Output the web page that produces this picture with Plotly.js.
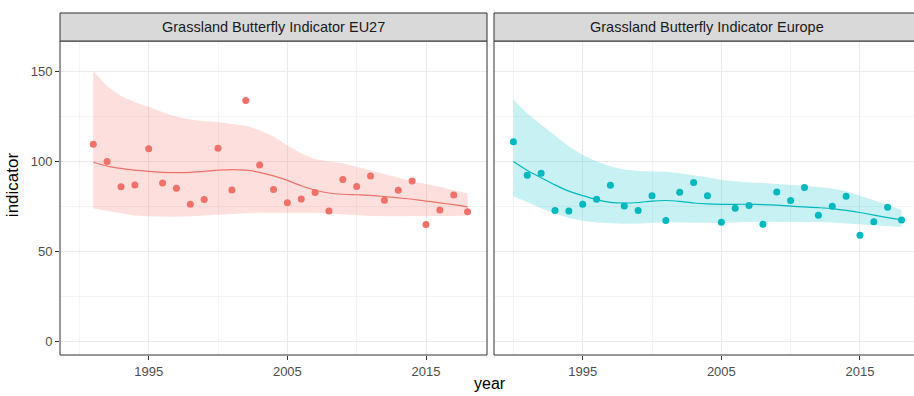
<!DOCTYPE html>
<html>
<head>
<meta charset="utf-8">
<script src="https://cdn.plot.ly/plotly-3.0.1.min.js"></script>
<style>
html,body{margin:0;padding:0;overflow:hidden;background:#fff;}
#chart{width:914px;height:396px;}
</style>
</head>
<body>
<div id="chart"></div>
<script>
// ---- Data ----
const panelTitles = ["Grassland Butterfly Indicator EU27", "Grassland Butterfly Indicator Europe"];

const yearsEU27 = [1991,1992,1993,1994,1995,1996,1997,1998,1999,2000,2001,2002,2003,2004,2005,2006,2007,2008,2009,2010,2011,2012,2013,2014,2015,2016,2017,2018];
const indexEU27 = [109.7,100.0,86.0,87.0,107.1,88.1,85.1,76.2,78.8,107.4,84.2,134.0,98.1,84.4,77.1,79.2,82.7,72.5,90.0,86.1,92.0,78.4,84.0,89.2,64.9,73.0,81.4,72.1];
const smoothEU27 = [99.6,97.5,96.2,95.2,94.5,94.0,93.8,94.0,94.5,95.2,95.5,95.2,94.0,92.0,89.5,86.5,84.0,82.5,81.8,81.5,81.2,80.5,79.8,79.0,78.0,77.0,76.0,74.8];
const upperEU27  = [150.5,142.0,136.5,133.0,130.5,127.5,125.0,123.5,122.5,122.0,121.0,120.0,117.5,114.0,109.0,104.5,101.5,100.0,99.0,97.0,95.0,93.0,91.0,89.0,87.5,86.0,84.0,82.3];
const lowerEU27  = [73.8,72.5,71.0,70.0,69.5,69.3,69.3,69.5,70.0,70.5,71.0,71.2,71.5,71.5,71.5,71.5,71.5,71.0,70.5,70.0,69.7,69.5,69.5,69.5,69.5,69.5,69.7,70.0];

const yearsEurope = [1990,1991,1992,1993,1994,1995,1996,1997,1998,1999,2000,2001,2002,2003,2004,2005,2006,2007,2008,2009,2010,2011,2012,2013,2014,2015,2016,2017,2018];
const indexEurope = [111.1,92.4,93.5,72.7,72.5,76.2,79.0,86.8,75.3,72.7,81.0,67.1,82.9,88.3,80.9,66.2,74.0,75.5,65.1,83.1,78.3,85.5,70.1,75.1,80.7,58.9,66.4,74.6,67.5];
const smoothEurope = [100.0,95.0,91.0,87.0,83.5,81.0,78.8,77.3,76.9,77.2,78.0,78.3,77.8,76.9,76.4,76.2,76.2,76.2,76.0,75.7,75.2,74.7,74.3,73.8,72.8,71.6,70.2,68.8,67.5];
const upperEurope  = [134.4,127.0,120.5,114.5,108.5,103.7,100.0,97.2,95.6,94.8,94.5,94.3,93.5,92.6,91.3,89.8,89.0,88.4,88.1,87.7,87.2,86.5,85.8,85.0,83.5,81.2,78.5,75.8,73.0];
const lowerEurope  = [80.5,77.5,74.0,71.0,68.5,67.0,66.0,65.5,65.3,65.5,66.0,66.2,66.0,65.8,65.8,65.8,66.0,66.5,66.5,66.5,66.5,66.5,66.3,66.0,65.5,65.0,64.5,64.0,63.5];

const yTicks = [0, 50, 100, 150];
const xTicks = [1995, 2005, 2015];

// ---- Styles ----
const RED = "#F0716A", TEAL = "#00B8BE";
const RED_FILL = "rgba(248,118,109,0.23)", TEAL_FILL = "rgba(0,191,196,0.22)";
const FONT = "Liberation Sans, Arial, sans-serif";

function panel(x, y, sm, lo, hi, col, fill, xa, ya) {
  return [
    {x: x, y: lo, xaxis: xa, yaxis: ya, type: "scatter", mode: "lines", line: {width: 0, color: fill}, hoverinfo: "skip", showlegend: false},
    {x: x, y: hi, xaxis: xa, yaxis: ya, type: "scatter", mode: "lines", fill: "tonexty", fillcolor: fill, line: {width: 0, color: fill}, hoverinfo: "skip", showlegend: false},
    {x: x, y: sm, xaxis: xa, yaxis: ya, type: "scatter", mode: "lines", line: {width: 1.2, color: col, shape: "spline", smoothing: 0.6}, showlegend: false},
    {x: x, y: y, xaxis: xa, yaxis: ya, type: "scatter", mode: "markers", marker: {size: 7, color: col}, showlegend: false}
  ];
}

const traces = [].concat(
  panel(yearsEU27, indexEU27, smoothEU27, lowerEU27, upperEU27, RED, RED_FILL, "x", "y"),
  panel(yearsEurope, indexEurope, smoothEurope, lowerEurope, upperEurope, TEAL, TEAL_FILL, "x2", "y2")
);

const gridMajor = "#EBEBEB";
const gridMinor = "#F4F4F4";

const xCommon = {
  tickmode: "array", tickvals: xTicks, ticktext: xTicks.map(String),
  ticks: "outside", ticklen: 4, tickwidth: 1, tickcolor: "#333333",
  tickfont: {family: FONT, size: 13, color: "#4D4D4D"},
  showgrid: true, gridcolor: gridMajor, gridwidth: 1,
  minor: {tickmode: "array", tickvals: [1990, 2000, 2010], showgrid: true, gridcolor: gridMinor, gridwidth: 1, ticks: ""},
  zeroline: false, showline: false, fixedrange: true
};

const yCommon = {
  range: [-7.8, 167.2],
  tickmode: "array", tickvals: yTicks, ticktext: yTicks.map(String),
  showgrid: true, gridcolor: gridMajor, gridwidth: 1,
  minor: {tickmode: "array", tickvals: [25, 75, 125], showgrid: true, gridcolor: gridMinor, gridwidth: 1, ticks: ""},
  zeroline: false, showline: false, fixedrange: true
};

const R = 0.5082;
const layout = {
  width: 914, height: 396,
  margin: {l: 60, r: 0, t: 41, b: 41, pad: 0},
  paper_bgcolor: "#ffffff", plot_bgcolor: "#ffffff",
  font: {family: FONT},
  xaxis: Object.assign({}, xCommon, {domain: [0, 0.5], range: [1988.6, 2019.4], anchor: "y"}),
  xaxis2: Object.assign({}, xCommon, {domain: [R, 1], range: [1988.6, 2018.9], anchor: "y2"}),
  yaxis: Object.assign({}, yCommon, {domain: [0, 1], anchor: "x",
    ticks: "outside", ticklen: 4, tickwidth: 1, tickcolor: "#333333",
    tickfont: {family: FONT, size: 13, color: "#4D4D4D"}}),
  yaxis2: Object.assign({}, yCommon, {domain: [0, 1], anchor: "x2", showticklabels: false, ticks: ""}),
  shapes: [
    {type: "rect", xref: "paper", yref: "paper", x0: 0, x1: 0.5, y0: 0, y1: 1, line: {color: "#333333", width: 1}, fillcolor: "rgba(0,0,0,0)", layer: "above"},
    {type: "rect", xref: "paper", yref: "paper", x0: R, x1: 1.02, y0: 0, y1: 1, line: {color: "#333333", width: 1}, fillcolor: "rgba(0,0,0,0)", layer: "above"},
    {type: "rect", xref: "paper", yref: "paper", x0: 0, x1: 0.5, y0: 1, y1: 1.0892, line: {color: "#333333", width: 1}, fillcolor: "#D9D9D9", layer: "above"},
    {type: "rect", xref: "paper", yref: "paper", x0: R, x1: 1.02, y0: 1, y1: 1.0892, line: {color: "#333333", width: 1}, fillcolor: "#D9D9D9", layer: "above"}
  ],
  annotations: [
    {text: panelTitles[0], xref: "paper", yref: "paper", x: 0.25, y: 1.0446, xanchor: "center", yanchor: "middle", showarrow: false, font: {family: FONT, size: 14.5, color: "#1A1A1A"}},
    {text: panelTitles[1], xref: "paper", yref: "paper", x: 0.7576, y: 1.0446, xanchor: "center", yanchor: "middle", showarrow: false, font: {family: FONT, size: 14.5, color: "#1A1A1A"}},
    {text: "year", xref: "paper", yref: "paper", x: 0.503, y: -0.1255, xanchor: "center", yanchor: "bottom", showarrow: false, font: {family: FONT, size: 16, color: "#000000"}},
    {text: "indicator", xref: "paper", yref: "paper", x: -0.0562, y: 0.541, xanchor: "center", yanchor: "middle", textangle: -90, showarrow: false, font: {family: FONT, size: 17, color: "#000000"}}
  ]
};

Plotly.newPlot("chart", traces, layout, {staticPlot: true, displayModeBar: false});
</script>
</body>
</html>
